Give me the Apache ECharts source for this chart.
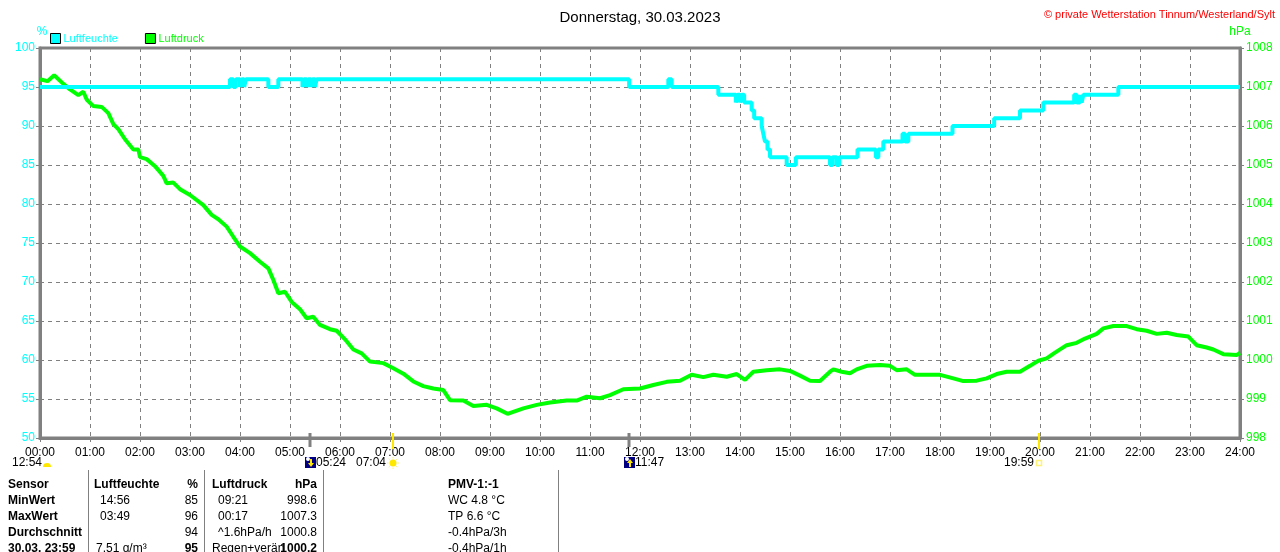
<!DOCTYPE html>
<html><head><meta charset="utf-8">
<script src="https://cdn.jsdelivr.net/npm/echarts@6/dist/echarts.min.js"></script>
<style>html,body{margin:0;padding:0;background:#fff}#c{width:1280px;height:552px}</style>
</head><body><div id="c"></div>
<script>
// ---------- DATA ----------
const titleText = 'Donnerstag, 30.03.2023';
const copyrightText = '\u00A9 private Wetterstation Tinnum/Westerland/Sylt';
const seriesNames = ['Luftfeuchte', 'Luftdruck'];

// Humidity (%), step changes (value holds until next time)
const humTimes = ['00:00','03:48','03:52','03:55','04:00','04:02','04:05','04:07','04:34','04:46','05:15','05:17','05:20','05:22','05:25','05:27','05:30','05:32',
  '11:47','12:34','12:38','13:34','13:55','13:57','14:00','14:02','14:05','14:14','14:17','14:26','14:28','14:30','14:33','14:36','14:56','15:07',
  '15:48','15:51','15:56','15:59','16:21','16:43','16:46','16:52','17:15','17:18','17:22','18:15','19:05','19:36','20:04','20:41','20:44','20:48',
  '20:50','20:52','21:34','24:00'];
const humValues = [95,96,95,96,95,96,95,96,95,96,95,96,95,96,95,96,95,96,
  95,96,95,94,93,94,93,94,93,92,91,90,89,88,87,86,85,86,
  85,86,85,86,87,86,87,88,89,88,89,90,91,92,93,94,93,94,
  93,94,95,95];

// Air pressure (hPa)
const presTimes = ['00:00','00:09','00:17','00:28','00:36','00:46','00:52','00:56','01:04','01:14','01:22','01:28','01:34','01:42','01:52','01:58',
  '02:00','02:08','02:18','02:28','02:32','02:40','02:48','03:00','03:16','03:26','03:34','03:44','03:52','04:00','04:12','04:24','04:34','04:40',
  '04:46','04:54','05:02','05:12','05:20','05:28','05:36','05:48','05:56','06:06','06:16','06:26','06:36','06:52','07:04','07:16','07:28','07:40',
  '07:52','08:04','08:12','08:28','08:40','08:56','09:08','09:21','09:40','09:56','10:12','10:32','10:44','10:56','11:12','11:24','11:40','12:00',
  '12:16','12:32','12:48','13:02','13:16','13:28','13:44','13:56','14:06','14:16','14:32','14:48','15:00','15:12','15:24','15:36','15:48','15:52',
  '16:02','16:12','16:20','16:32','16:48','17:00','17:08','17:20','17:30','17:44','18:00','18:16','18:28','18:44','18:56','19:08','19:20','19:36',
  '19:48','19:58','20:08','20:18','20:32','20:44','20:54','21:08','21:16','21:28','21:44','21:56','22:08','22:20','22:32','22:44','22:58','23:08',
  '23:20','23:28','23:40','23:56','24:00'];
const presValues = [1007.20,1007.15,1007.30,1007.08,1006.94,1006.79,1006.88,1006.68,1006.51,1006.49,1006.33,1006.05,1005.92,1005.66,1005.40,1005.40,
  1005.20,1005.15,1004.97,1004.72,1004.53,1004.55,1004.38,1004.23,1003.97,1003.72,1003.61,1003.42,1003.16,1002.91,1002.74,1002.52,1002.35,1002.05,
  1001.71,1001.75,1001.49,1001.30,1001.07,1001.11,1000.90,1000.79,1000.75,1000.53,1000.27,1000.17,999.96,999.92,999.79,999.65,999.45,999.33,
  999.27,999.23,998.97,998.96,998.82,998.85,998.76,998.62,998.76,998.85,998.91,998.96,998.96,999.06,999.02,999.10,999.25,999.27,
  999.36,999.44,999.47,999.62,999.56,999.62,999.57,999.64,999.49,999.70,999.74,999.76,999.72,999.60,999.47,999.46,999.70,999.76,
  999.70,999.66,999.76,999.85,999.87,999.85,999.74,999.76,999.62,999.62,999.62,999.53,999.46,999.47,999.53,999.64,999.70,999.70,
  999.85,999.98,1000.04,1000.19,1000.38,1000.44,1000.55,1000.67,1000.81,1000.87,1000.87,1000.79,1000.75,1000.67,1000.70,1000.64,1000.60,1000.38,
  1000.32,1000.27,1000.15,1000.13,1000.18];

// Sun / moon events under the time axis
const eventTimes = ['05:24','07:04','11:47','19:59'];
const eventKinds = ['moonset','sunrise','moonrise','sunset'];
const dayLengthText = '12:54';

// Table
const tableHeader = ['Sensor','Luftfeuchte','%','Luftdruck','hPa','PMV-1:-1'];
const rowLabels = ['MinWert','MaxWert','Durchschnitt','30.03. 23:59'];
const humTimesCol = ['14:56','03:49','','7.51 g/m\u00B3'];
const humValCol = ['85','96','94','95'];
const presTimesCol = ['09:21','00:17','^1.6hPa/h','Regen+verän'];
const presValCol = ['998.6','1007.3','1000.8','1000.2'];
const infoCol = ['WC 4.8 \u00B0C','TP 6.6 \u00B0C','-0.4hPa/3h','-0.4hPa/1h'];

// ---------- CHART ----------
const toH = s => { const p = s.split(':'); return +p[0] + (+p[1]) / 60; };
const pad = n => (n < 10 ? '0' : '') + n;
const FONT = '"Liberation Sans", Arial, sans-serif';
const CYAN = '#00FFFF', GREEN = '#00FF00', GREY = '#808080';

const chart = echarts.init(document.getElementById('c'), null, {renderer: 'canvas'});
const option = {
  backgroundColor: '#fff',
  animation: false,
  textStyle: {fontFamily: FONT},
  title: [
    {text: titleText, left: 'center', top: 5, textStyle: {fontSize: 15, fontWeight: 'normal', color: '#000', fontFamily: FONT}},
    {text: copyrightText, right: 0, top: 4, textStyle: {fontSize: 11, fontWeight: 'normal', color: '#FF0000', fontFamily: FONT}}
  ],
  legend: {
    left: 50, top: 33, padding: 0, icon: 'rect', itemWidth: 10, itemHeight: 10, itemGap: 27,
    textStyle: {fontSize: 11, fontFamily: FONT, padding: [0, 0, 0, -2]},
    data: [
      {name: seriesNames[0], textStyle: {color: CYAN}, itemStyle: {color: CYAN, borderColor: '#000', borderWidth: 1}},
      {name: seriesNames[1], textStyle: {color: GREEN}, itemStyle: {color: GREEN, borderColor: '#000', borderWidth: 1}}
    ],
    selectedMode: false
  },
  grid: {left: 40, right: 40, top: 48, bottom: 114, show: true, borderColor: GREY, borderWidth: 3, containLabel: false},
  xAxis: {
    type: 'value', min: 0, max: 24, interval: 1,
    axisLine: {lineStyle: {color: GREY, width: 3}},
    axisTick: {show: true, length: 4, lineStyle: {color: GREY, width: 1}},
    axisLabel: {color: '#000', fontSize: 12, margin: 9, fontFamily: FONT, formatter: v => pad(v) + ':00'},
    splitLine: {show: true, lineStyle: {color: GREY, type: [4, 4], width: 1}}
  },
  yAxis: [
    {
      type: 'value', min: 50, max: 100, interval: 5, position: 'left',
      name: '%', nameLocation: 'end', nameGap: 10,
      nameTextStyle: {color: CYAN, fontSize: 12, fontFamily: FONT, align: 'center', padding: [0, 0, 0, 4]},
      axisLine: {show: true, lineStyle: {color: GREY, width: 3}},
      axisTick: {show: true, length: 4, lineStyle: {color: GREY}},
      axisLabel: {color: CYAN, fontSize: 12, margin: 5, fontFamily: FONT, formatter: v => String(v)},
      splitLine: {show: true, lineStyle: {color: GREY, type: [4, 4], width: 1}}
    },
    {
      type: 'value', min: 998, max: 1008, interval: 1, position: 'right',
      name: 'hPa', nameLocation: 'end', nameGap: 10,
      nameTextStyle: {color: GREEN, fontSize: 12, fontFamily: FONT, align: 'center', padding: [0, 0, 0, 0]},
      axisLine: {show: true, lineStyle: {color: GREY, width: 3}},
      axisTick: {show: true, length: 4, lineStyle: {color: GREY}},
      axisLabel: {color: GREEN, fontSize: 12, margin: 6, fontFamily: FONT, formatter: v => String(v)},
      splitLine: {show: false}
    }
  ],
  series: [
    {
      name: seriesNames[1], type: 'line', yAxisIndex: 1, showSymbol: false, symbol: 'none',
      data: presTimes.map((t, i) => [toH(t), presValues[i]]),
      lineStyle: {color: GREEN, width: 4}, itemStyle: {color: GREEN}, z: 2
    },
    {
      name: seriesNames[0], type: 'line', yAxisIndex: 0, showSymbol: false, symbol: 'none', step: 'end',
      data: humTimes.map((t, i) => [toH(t), humValues[i]]),
      lineStyle: {color: CYAN, width: 4}, itemStyle: {color: CYAN}, z: 3
    }
  ]
};
chart.setOption(option);

// ---------- graphics: events + table ----------
const g = [];
const txt = (x, y, s, opt) => g.push({type: 'text', x: x, y: y, style: Object.assign({text: s, fill: '#000', font: '12px ' + FONT, textVerticalAlign: 'middle'}, opt || {})});
const axisY = 438;

eventTimes.forEach((t, i) => {
  const x = Math.round(chart.convertToPixel({xAxisIndex: 0}, toH(t)));
  const kind = eventKinds[i];
  const isMoon = kind.indexOf('moon') === 0;
  g.push({type: 'line', shape: {x1: x, y1: axisY - 5, x2: x, y2: axisY + (isMoon ? 9 : 11)},
    style: {stroke: isMoon ? GREY : '#FFE800', lineWidth: isMoon ? 3 : 2}, z: 50});
  const cy = 463;
  if (isMoon) {
    g.push({type: 'rect', shape: {x: x - 5, y: cy - 6, width: 11, height: 11}, style: {fill: '#000080'}, z: 50});
    g.push({type: 'circle', shape: {cx: x - 2, cy: cy - 4, r: 2}, style: {fill: '#ffffff'}, z: 51});
    const up = kind === 'moonrise';
    g.push({type: 'polygon', shape: {points: up ?
      [[x + 1, cy - 4], [x + 4, cy], [x + 2, cy], [x + 2, cy + 4], [x, cy + 4], [x, cy], [x - 2, cy]] :
      [[x + 1, cy + 4], [x + 4, cy], [x + 2, cy], [x + 2, cy - 4], [x, cy - 4], [x, cy], [x - 2, cy]]},
      style: {fill: '#FFE800'}, z: 52});
    txt(x + 6, cy, t, {textAlign: 'left'});
  } else if (kind === 'sunrise') {
    g.push({type: 'circle', shape: {cx: x, cy: cy, r: 3.5}, style: {fill: '#FFE800'}, z: 50});
    for (let k = 0; k < 8; k++) {
      const a = k * Math.PI / 4;
      g.push({type: 'line', shape: {x1: x + Math.cos(a) * 4.5, y1: cy + Math.sin(a) * 4.5, x2: x + Math.cos(a) * 6, y2: cy + Math.sin(a) * 6},
        style: {stroke: '#FFF27A', lineWidth: 1}, z: 50});
    }
    txt(x - 7, cy, t, {textAlign: 'right'});
  } else {
    g.push({type: 'rect', shape: {x: x - 2.5, y: cy - 2.5, width: 5, height: 5}, style: {fill: 'none', stroke: '#FFF27A', lineWidth: 1.5}, z: 50});
    txt(x - 5, cy, t, {textAlign: 'right'});
  }
});
// day length label with half sun
txt(12, 463, dayLengthText, {textAlign: 'left'});
g.push({type: 'sector', shape: {cx: 47, cy: 467, r: 4, startAngle: Math.PI, endAngle: 2 * Math.PI}, style: {fill: '#FFE800'}});

// table separators
[88, 204, 323, 558].forEach(x => g.push({type: 'line', shape: {x1: x + 0.5, y1: 470, x2: x + 0.5, y2: 552}, style: {stroke: GREY, lineWidth: 1}}));
const rowsY = [485, 501, 517, 533, 549];
const B = {font: 'bold 12px ' + FONT};
txt(8, rowsY[0], tableHeader[0], B);
txt(94, rowsY[0], tableHeader[1], B);
txt(198, rowsY[0], tableHeader[2], Object.assign({textAlign: 'right'}, B));
txt(212, rowsY[0], tableHeader[3], B);
txt(317, rowsY[0], tableHeader[4], Object.assign({textAlign: 'right'}, B));
txt(448, rowsY[0], tableHeader[5], B);
rowLabels.forEach((lab, i) => {
  const y = rowsY[i + 1];
  const last = i === rowLabels.length - 1;
  txt(8, y, lab, B);
  txt(last ? 96 : 100, y, humTimesCol[i], {textAlign: 'left'});
  txt(198, y, humValCol[i], last ? Object.assign({textAlign: 'right'}, B) : {textAlign: 'right'});
  txt(last ? 212 : 218, y, presTimesCol[i], {textAlign: 'left'});
  txt(317, y, presValCol[i], last ? Object.assign({textAlign: 'right'}, B) : {textAlign: 'right'});
  txt(448, y, infoCol[i], {textAlign: 'left'});
});
chart.setOption({graphic: g});
</script></body></html>
